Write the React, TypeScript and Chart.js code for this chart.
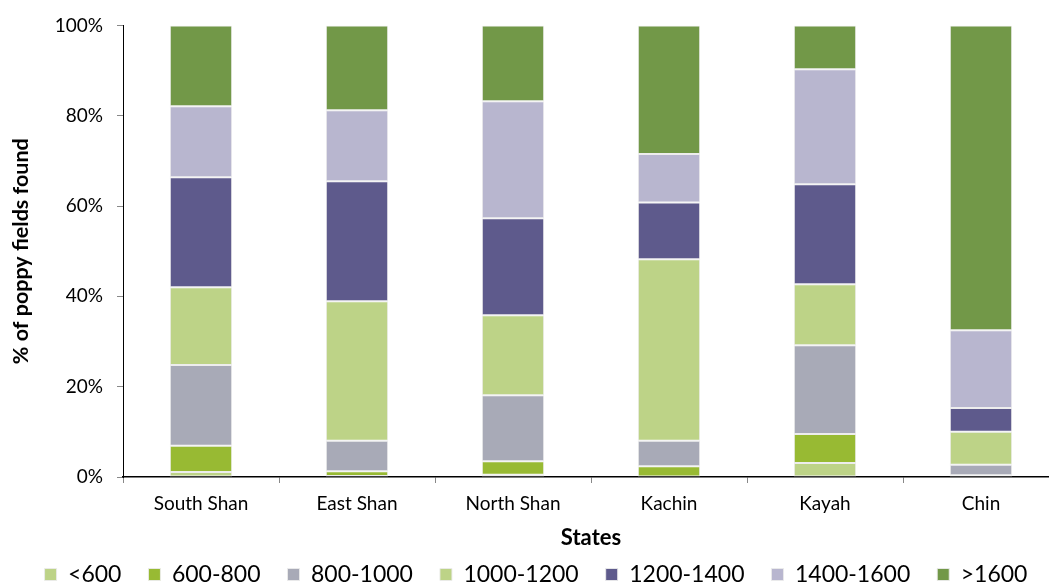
import React, { useEffect, useRef } from "react";
import { Chart, registerables } from "chart.js";

Chart.register(...registerables);

const categories = ["South Shan", "East Shan", "North Shan", "Kachin", "Kayah", "Chin"];
const seriesLabels = ["<600", "600-800", "800-1000", "1000-1200", "1200-1400", "1400-1600", ">1600"];
const below600 = [1.1, 0.2, 0.5, 0, 3.1, 0];
const r600to800 = [5.8, 1.1, 3.0, 2.4, 6.4, 0.4];
const r800to1000 = [17.9, 6.7, 14.6, 5.6, 19.7, 2.3];
const r1000to1200 = [17.2, 30.9, 17.7, 40.2, 13.5, 7.3];
const r1200to1400 = [24.4, 26.6, 21.5, 12.6, 22.1, 5.3];
const r1400to1600 = [15.7, 15.7, 25.9, 10.7, 25.5, 17.2];
const above1600 = [17.9, 18.8, 16.8, 28.5, 9.7, 67.5];
const yTicks = [0, 20, 40, 60, 80, 100];

const seriesValues = [below600, r600to800, r800to1000, r1000to1200, r1200to1400, r1400to1600, above1600];
const seriesColors = ["#BDD387", "#98BA33", "#A8AAB7", "#BDD387", "#5E5A8C", "#B8B6CF", "#729848"];

const FONT = "Lato, 'Open Sans', sans-serif";

export default function App() {
  const ref = useRef<HTMLCanvasElement | null>(null);
  useEffect(() => {
    if (!ref.current) return;
    const chart = new Chart(ref.current, {
      type: "bar",
      data: {
        labels: categories,
        datasets: seriesLabels.map((l, i) => ({
          label: l,
          data: seriesValues[i],
          backgroundColor: seriesColors[i],
          borderColor: "rgba(235,235,235,0.9)",
          borderWidth: 1,
          borderSkipped: false,
          categoryPercentage: 1,
          barPercentage: 0.4,
        })),
      },
      options: {
        responsive: false,
        animation: false,
        layout: { padding: { top: 24, right: 11, left: 13, bottom: 0 } },
        plugins: {
          tooltip: { enabled: false },
          legend: {
            position: "bottom",
            labels: {
              boxWidth: 12,
              boxHeight: 12,
              padding: 27,
              color: "#000",
              font: { family: FONT, size: 23 },
            },
          },
        },
        scales: {
          x: {
            stacked: true,
            border: { color: "#000", width: 1.5 },
            grid: { drawOnChartArea: false, drawTicks: true, tickLength: 6, color: "#888", offset: true },
            afterFit: (scale: any) => {
              scale.height = 59;
            },
            ticks: { color: "#000", padding: 9, font: { family: FONT, size: 19 } },
            title: {
              display: true,
              text: "States",
              color: "#000",
              font: { family: FONT, size: 22, weight: "bold" },
              padding: { top: 0, bottom: -15 },
            },
          },
          y: {
            stacked: true,
            min: 0,
            max: 100,
            border: { color: "#000", width: 1 },
            grid: { drawOnChartArea: false, drawTicks: true, tickLength: 6, color: "#888" },
            afterBuildTicks: (scale: any) => {
              scale.ticks = yTicks.map((v) => ({ value: v }));
            },
            afterFit: (scale: any) => {
              scale.width = 110;
            },
            ticks: {
              color: "#000",
              padding: 14,
              font: { family: FONT, size: 19 },
              callback: (v: any) => v + "%",
            },
            title: {
              display: true,
              text: "% of poppy fields found",
              color: "#000",
              font: { family: FONT, size: 21.5, weight: "bold" },
              padding: { top: -5, bottom: 0 },
            },
          },
        },
      },
    });
    return () => chart.destroy();
  }, []);
  return (
    <div style={{ position: "fixed", left: 0, top: 0, width: 1049, height: 585, overflow: "hidden", background: "#fff" }}>
      <canvas ref={ref} width={1070} height={596} style={{ width: 1070, height: 596, display: "block" }} />
    </div>
  );
}
